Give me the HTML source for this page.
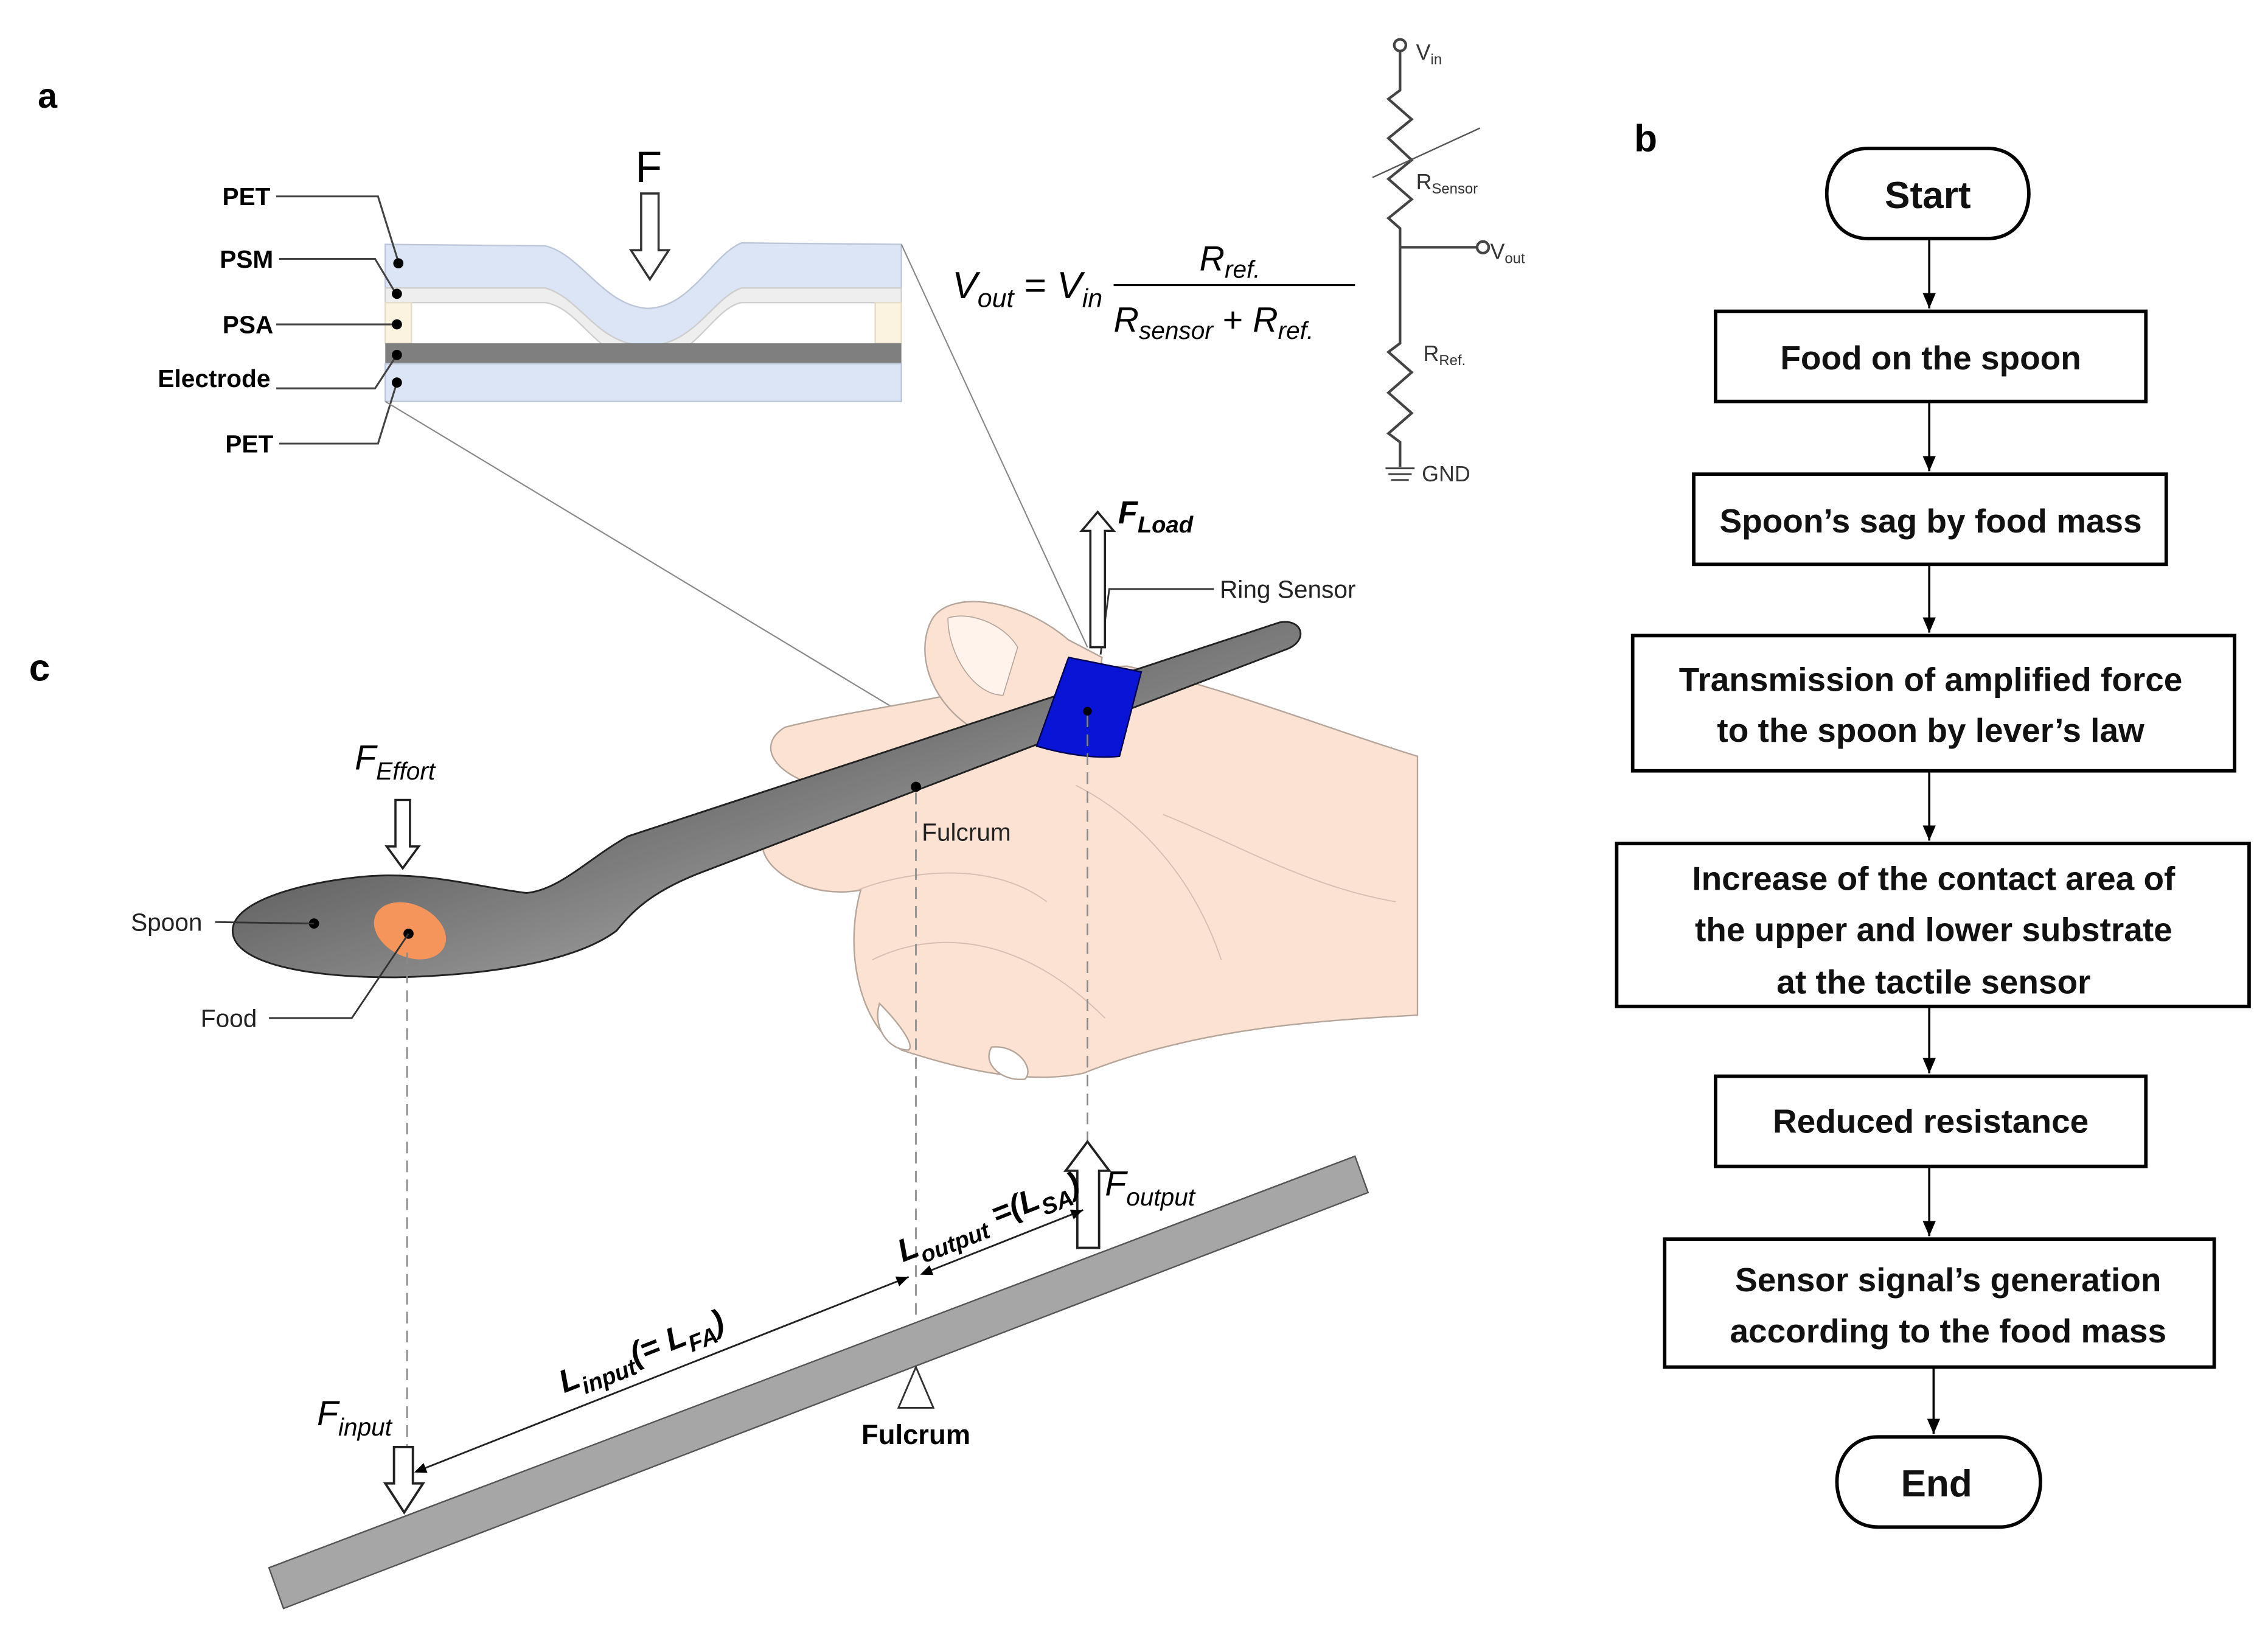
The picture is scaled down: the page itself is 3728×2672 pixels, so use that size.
<!DOCTYPE html>
<html><head><meta charset="utf-8"><style>
html,body{margin:0;padding:0;background:#fff}
svg{display:block}
text{font-family:"Liberation Sans",sans-serif}
</style></head><body>
<svg width="3728" height="2672" viewBox="0 0 1560 1118" xmlns="http://www.w3.org/2000/svg">
<defs>
<linearGradient id="sp" x1="0" y1="0" x2="1" y2="0.3">
<stop offset="0" stop-color="#2a2a2a"/><stop offset="0.35" stop-color="#666"/><stop offset="0.55" stop-color="#bbb"/><stop offset="0.75" stop-color="#555"/><stop offset="1" stop-color="#999"/></linearGradient>
<linearGradient id="bw" x1="0" y1="0" x2="1" y2="1">
<stop offset="0" stop-color="#222"/><stop offset="1" stop-color="#d0d0d0"/></linearGradient>
<marker id="ah" markerWidth="8" markerHeight="8" refX="7" refY="4" orient="auto"><path d="M0,1 L7,4 L0,7 Z" fill="#000"/></marker>
<marker id="ahs" markerWidth="8" markerHeight="8" refX="1" refY="4" orient="auto"><path d="M7,1 L0,4 L7,7 Z" fill="#000"/></marker>
</defs>

<!-- panel labels -->
<text x="26" y="74" font-size="24" font-weight="bold">a</text>
<text x="1124" y="104" font-size="26" font-weight="bold">b</text>
<text x="20" y="468" font-size="26" font-weight="bold">c</text>

<!-- ===== Panel a: layer stack ===== -->
<path d="M265 168 L375 169 C400 175,415 210,445 212 C475 212,490 175,510 167 L620 168 L620 198 L510 198 C490 205,478 237,445 238 C410 237,400 205,375 198 L265 198 Z" fill="#dbe5f5" stroke="#bcc6d6" stroke-width="1"/>
<path d="M265 198 L375 198 C400 205,410 237,445 238 C478 237,490 205,510 198 L620 198 L620 208 L510 208 C490 212,478 248,445 249 C410 248,400 212,375 208 L265 208 Z" fill="#eeeeee" stroke="#cfcfcf" stroke-width="1"/>
<rect x="265" y="208" width="18" height="28" fill="#fbf3df" stroke="#e2dcc8"/>
<rect x="602" y="208" width="18" height="28" fill="#fbf3df" stroke="#e2dcc8"/>
<rect x="265" y="236" width="355" height="14" fill="#7f7f7f"/>
<rect x="265" y="250" width="355" height="26" fill="#dbe5f5" stroke="#bcc6d6" stroke-width="1"/>
<!-- F arrow -->
<text x="437" y="125" font-size="30">F</text>
<path d="M441 133 L453 133 L453 172 L460 172 L447 192 L434 172 L441 172 Z" fill="#fff" stroke="#333" stroke-width="1.5"/>
<!-- leader lines -->
<g stroke="#444" stroke-width="1.3" fill="none">
<path d="M190 135 L260 135 L274 180"/>
<path d="M192 178 L258 178 L273 203"/>
<path d="M190 223 L273 223"/>
<path d="M190 267 L258 267 L273 244"/>
<path d="M192 305 L260 305 L273 263"/>
</g>
<g fill="#000"><circle cx="274" cy="181" r="3.5"/><circle cx="273" cy="202" r="3.5"/><circle cx="273" cy="223" r="3.5"/><circle cx="273" cy="244" r="3.5"/><circle cx="273" cy="263" r="3.5"/></g>
<g font-size="17" font-weight="bold" text-anchor="end">
<text x="186" y="141">PET</text><text x="188" y="184">PSM</text><text x="188" y="229">PSA</text><text x="186" y="266">Electrode</text><text x="188" y="311">PET</text>
</g>
<!-- projection lines -->
<g stroke="#888" stroke-width="0.9"><line x1="620" y1="168" x2="748" y2="445"/><line x1="265" y1="276" x2="620" y2="490"/></g>

<!-- equation -->
<g font-family="Liberation Serif" font-style="italic">
<text x="655" y="205" font-size="26" font-family="Liberation Serif">V<tspan font-size="18" dy="6">out</tspan><tspan dy="-6" font-style="normal"> = </tspan>V<tspan font-size="18" dy="6">in</tspan></text>
<text x="825" y="186" font-size="24" font-family="Liberation Serif">R<tspan font-size="17" dy="5">ref.</tspan></text>
<line x1="766" y1="196" x2="932" y2="196" stroke="#000" stroke-width="1.3"/>
<text x="766" y="228" font-size="24" font-family="Liberation Serif">R<tspan font-size="17" dy="5">sensor</tspan><tspan dy="-5" font-style="normal"> + </tspan>R<tspan font-size="17" dy="5">ref.</tspan></text>
</g>

<!-- circuit -->
<g stroke="#444" stroke-width="1.8" fill="none">
<circle cx="963" cy="31" r="4"/>
<path d="M963 35 L963 62 L955 68 L971 82 L955 95 L971 110 L955 123 L971 137 L955 150 L963 157 L963 236 L955 242 L971 256 L955 270 L971 284 L955 298 L963 304 L963 321"/>
<path d="M963 170 L1016 170"/><circle cx="1020" cy="170" r="4"/>
<path d="M953 322 L973 322 M955 326 L971 326 M957 330 L969 330" stroke-width="1.3"/>
</g>
<line x1="944" y1="122" x2="1018" y2="88" stroke="#555" stroke-width="1"/>
<g font-size="15" fill="#333">
<text x="974" y="41">V<tspan font-size="10" dy="3">in</tspan></text>
<text x="974" y="130">R<tspan font-size="10" dy="3">Sensor</tspan></text>
<text x="1025" y="178">V<tspan font-size="10" dy="3">out</tspan></text>
<text x="979" y="248">R<tspan font-size="10" dy="3">Ref.</tspan></text>
<text x="978" y="331">GND</text>
</g>

<!-- ===== Panel b: flowchart ===== -->
<g stroke="#000" stroke-width="2.4" fill="#fff">
<path d="M1285 102 L1367 102 C1405 102,1405 164,1367 164 L1285 164 C1247 164,1247 102,1285 102 Z"/>
<rect x="1180" y="214" width="296" height="62"/>
<rect x="1165" y="326" width="325" height="62"/>
<rect x="1123" y="437" width="414" height="93"/>
<rect x="1112" y="580" width="435" height="112"/>
<rect x="1180" y="740" width="296" height="62"/>
<rect x="1145" y="852" width="378" height="88"/>
<path d="M1292 988 L1375 988 C1413 988,1413 1050,1375 1050 L1292 1050 C1254 1050,1254 988,1292 988 Z"/>
</g>
<g stroke="#000" stroke-width="1.5" marker-end="url(#ah)">
<line x1="1327" y1="164" x2="1327" y2="212"/>
<line x1="1327" y1="276" x2="1327" y2="324"/>
<line x1="1327" y1="388" x2="1327" y2="435"/>
<line x1="1327" y1="530" x2="1327" y2="578"/>
<line x1="1327" y1="692" x2="1327" y2="738"/>
<line x1="1327" y1="802" x2="1327" y2="850"/>
<line x1="1330" y1="940" x2="1330" y2="986"/>
</g>
<g font-size="23" font-weight="bold" text-anchor="middle" fill="#111">
<text x="1326" y="143" font-size="26">Start</text>
<text x="1328" y="254">Food on the spoon</text>
<text x="1328" y="366">Spoon’s sag by food mass</text>
<text x="1328" y="475">Transmission of amplified force</text>
<text x="1328" y="510">to the spoon by lever’s law</text>
<text x="1330" y="612">Increase of the contact area of</text>
<text x="1330" y="647">the upper and lower substrate</text>
<text x="1330" y="683">at the tactile sensor</text>
<text x="1328" y="779">Reduced resistance</text>
<text x="1340" y="888">Sensor signal’s generation</text>
<text x="1340" y="923">according to the food mass</text>
<text x="1332" y="1029" font-size="26">End</text>
</g>

<!-- ===== Panel c ===== -->
<!-- hand -->
<g fill="#fbe2d2" stroke="#b5a59a" stroke-width="1">
<path d="M775 458 C840 472,910 500,975 520 L975 698 C900 702,820 708,745 738 C705 746,660 735,620 722 C592 705,580 655,592 612 C560 618,530 602,525 585 C520 560,545 545,562 540 C532 532,520 512,540 500 C580 490,620 485,652 478 C660 470,700 460,775 458 Z"/>
<path d="M640 428 C650 405,700 410,735 440 L758 452 L752 500 C720 505,690 505,665 498 C640 480,630 450,640 428 Z"/>
<path d="M605 690 C615 700,630 718,625 722 C610 722,600 705,605 690 Z" fill="#fff"/>
<path d="M682 720 C700 718,712 735,705 742 C690 744,675 732,682 720 Z" fill="#fff"/>
<path d="M652 425 C665 420,690 428,700 445 L690 478 C670 478,652 450,652 425 Z" fill="#fff3ec" stroke-width="0.7"/>
</g>
<g fill="none" stroke="#d6bfb2" stroke-width="0.8">
<path d="M590 612 C620 600,680 590,720 620"/>
<path d="M600 660 C640 640,700 640,760 700"/>
<path d="M800 560 C850 580,900 610,960 620"/>
<path d="M740 540 C780 560,820 600,840 660"/>
</g>
<!-- spoon -->
<path d="M160 640 C160 615,230 603,262 602 C300 601,330 610,362 614 C385 612,405 590,432 575 L880 428 C896 425,900 440,886 446 L482 600 C446 614,434 628,424 640 C392 664,322 671,272 672 C202 672,160 660,160 640 Z" fill="url(#bw)" stroke="#222" stroke-width="1.2"/>
<ellipse cx="282" cy="640" rx="26" ry="18" transform="rotate(25 282 640)" fill="#f5955c"/>
<circle cx="216" cy="635" r="3.5"/><circle cx="281" cy="642" r="3.5"/><circle cx="630" cy="541" r="3.5"/>
<!-- ring -->
<path d="M735 452 L785 462 L770 520 C752 522,730 518,713 513 Z" fill="#0a14d6" stroke="#000050" stroke-width="1"/>
<circle cx="748" cy="489" r="3"/>
<!-- labels -->
<g stroke="#333" stroke-width="1.2" fill="none">
<path d="M148 634 L216 635"/>
<path d="M185 700 L242 700 L281 642"/>
<path d="M835 405 L763 405 L757 450"/>
</g>
<g font-size="17" fill="#222">
<text x="90" y="640">Spoon</text>
<text x="138" y="706">Food</text>
<text x="634" y="578">Fulcrum</text>
<text x="839" y="411">Ring Sensor</text>
</g>
<!-- F effort -->
<text x="244" y="529" font-size="24" font-style="italic">F<tspan font-size="17" dy="7">Effort</tspan></text>
<path d="M272 550 L282 550 L282 582 L288 582 L277 597 L266 582 L272 582 Z" fill="#fff" stroke="#222" stroke-width="1.5"/>
<!-- F load -->
<path d="M750 445 L760 445 L760 365 L766 365 L755 352 L744 365 L750 365 Z" fill="#fff" stroke="#222" stroke-width="1.5"/>
<text x="769" y="360" font-size="22" font-style="italic" font-weight="bold">F<tspan font-size="16" dy="6">Load</tspan></text>

<!-- dashed lines -->
<g stroke="#888" stroke-width="1.1" stroke-dasharray="8,5">
<line x1="280" y1="655" x2="280" y2="1000"/>
<line x1="630" y1="545" x2="630" y2="940"/>
<line x1="748" y1="492" x2="748" y2="790"/>
</g>
<!-- lever -->
<path d="M185 1078 L932 795 L941 820 L195 1106 Z" fill="#a6a6a6" stroke="#555" stroke-width="1"/>
<path d="M630 940 L642 968 L618 968 Z" fill="#fff" stroke="#333" stroke-width="1.2"/>
<text x="630" y="993" font-size="19" font-weight="bold" text-anchor="middle">Fulcrum</text>
<!-- F input -->
<path d="M271 995 L284 995 L284 1020 L291 1020 L278 1040 L265 1020 L271 1020 Z" fill="#fff" stroke="#222" stroke-width="1.6"/>
<text x="218" y="980" font-size="24" font-style="italic">F<tspan font-size="17" dy="7">input</tspan></text>
<!-- F output -->
<path d="M741 858 L756 858 L756 805 L763 805 L748 785 L733 805 L741 805 Z" fill="#fff" stroke="#222" stroke-width="1.6"/>
<text x="760" y="822" font-size="24" font-style="italic">F<tspan font-size="17" dy="7">output</tspan></text>
<!-- dimension lines -->
<g stroke="#222" stroke-width="1.2">
<line x1="286" y1="1012" x2="625" y2="878" marker-end="url(#ah)" marker-start="url(#ahs)"/>
<line x1="634" y1="876" x2="745" y2="832" marker-end="url(#ah)" marker-start="url(#ahs)"/>
</g>
<text transform="translate(388 958) rotate(-21.5)" font-size="22" font-weight="bold" font-style="italic">L<tspan font-size="16" dy="6">input</tspan><tspan dy="-6">(= L</tspan><tspan font-size="16" dy="6">FA</tspan><tspan dy="-6">)</tspan></text>
<text transform="translate(621 868) rotate(-21.5)" font-size="22" font-weight="bold" font-style="italic">L<tspan font-size="16" dy="6">output</tspan><tspan dy="-6"> =(L</tspan><tspan font-size="16" dy="6">SA</tspan><tspan dy="-6">)</tspan></text>
</svg>
</body></html>
